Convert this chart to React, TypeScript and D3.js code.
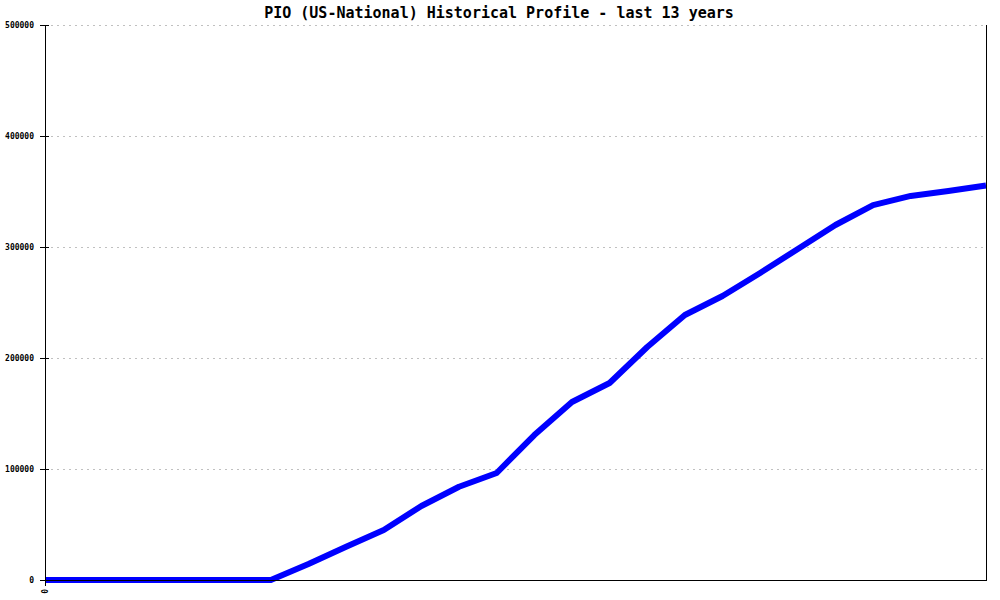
import React from 'react';
import * as d3 from 'd3';

// semi-annual samples over the last 13 years
const periods: number[] = d3.range(0, 26);
const values: number[] = [
  0, 0, 0, 0, 0, 0, 0,
  14400, 30000, 45000, 66700, 84000, 96400, 130600, 160400, 177500,
  209900, 238700, 255900, 276600, 298200, 319800, 337800, 346000, 350400, 355400
];
const yTicks: number[] = [0, 100000, 200000, 300000, 400000, 500000];
const xTickLabels: string[] = ['0'];
const title = 'PIO (US-National) Historical Profile - last 13 years';

const App: React.FC = () => {
  const svgRef = React.useRef<SVGSVGElement>(null);
  const width = 1000;
  const height = 600;

  React.useEffect(() => {
    if (!svgRef.current) return;
    document.body.style.margin = '0';

    const svg = d3.select(svgRef.current);
    svg.selectAll('*').remove();

    const margin = { top: 25, right: 14, bottom: 20, left: 45 };
    const x0 = margin.left;
    const x1 = width - margin.right;
    const y0 = height - margin.bottom;
    const y1 = margin.top;
    const font = "'DejaVu Sans Mono', 'Liberation Mono', monospace";

    const xScale = d3.scaleLinear()
      .domain([0, periods.length - 1])
      .range([x0, x1]);

    const yScale = d3.scaleLinear()
      .domain([0, 500000])
      .range([y0, y1]);

    // 그리드
    svg.append('g')
      .selectAll('line')
      .data(yTicks.filter(t => t > 0))
      .enter().append('line')
      .attr('x1', x0)
      .attr('x2', x1)
      .attr('y1', d => Math.round(yScale(d)) + 0.5)
      .attr('y2', d => Math.round(yScale(d)) + 0.5)
      .attr('stroke', '#c0c0c0')
      .attr('stroke-dasharray', '2,4')
      .attr('shape-rendering', 'crispEdges');

    // 라인
    const line = d3.line<number>()
      .x((_, i) => xScale(periods[i]))
      .y(d => yScale(d));

    svg.append('path')
      .datum(values)
      .attr('fill', 'none')
      .attr('stroke', '#0000ff')
      .attr('stroke-width', 6)
      .attr('stroke-linejoin', 'round')
      .attr('d', line);

    // 축
    const axis = svg.append('g')
      .attr('stroke', '#000')
      .attr('shape-rendering', 'crispEdges');

    axis.append('line')
      .attr('x1', x0 + 0.5).attr('x2', x0 + 0.5)
      .attr('y1', y1).attr('y2', y0 + 4);
    axis.append('line')
      .attr('x1', x0).attr('x2', x1 + 1)
      .attr('y1', y0 + 0.5).attr('y2', y0 + 0.5);
    axis.append('line')
      .attr('x1', x1 + 0.5).attr('x2', x1 + 0.5)
      .attr('y1', y1).attr('y2', y0);

    axis.selectAll('.ytick')
      .data(yTicks)
      .enter().append('line')
      .attr('class', 'ytick')
      .attr('x1', x0 - 5)
      .attr('x2', x0 + 4)
      .attr('y1', d => Math.round(yScale(d)) + 0.5)
      .attr('y2', d => Math.round(yScale(d)) + 0.5);

    axis.append('line')
      .attr('x1', x0 + 0.5).attr('x2', x0 + 0.5)
      .attr('y1', y0).attr('y2', y0 + 6);

    svg.append('g')
      .selectAll('text')
      .data(yTicks)
      .enter().append('text')
      .attr('x', x0 - 11)
      .attr('y', d => yScale(d))
      .attr('dy', '0.35em')
      .attr('text-anchor', 'end')
      .attr('font-family', font)
      .attr('font-size', '8px')
      .attr('font-weight', 'bold')
      .attr('fill', '#000')
      .text(d => String(d));

    svg.append('g')
      .selectAll('text')
      .data(xTickLabels)
      .enter().append('text')
      .attr('transform', (_, i) => `translate(${xScale(i) + 3},${y0 + 9}) rotate(-90)`)
      .attr('text-anchor', 'end')
      .attr('font-family', font)
      .attr('font-size', '8px')
      .attr('font-weight', 'bold')
      .attr('fill', '#000')
      .text(d => d);

    // 제목
    svg.append('text')
      .attr('x', 499)
      .attr('y', 18)
      .attr('text-anchor', 'middle')
      .attr('font-family', font)
      .attr('font-size', '15px')
      .attr('font-weight', 'bold')
      .attr('fill', '#000')
      .text(title);
  }, []);

  return (
    <svg
      ref={svgRef}
      width={width}
      height={height}
      style={{ display: 'block', background: '#fff' }}
    />
  );
};

export default App;
